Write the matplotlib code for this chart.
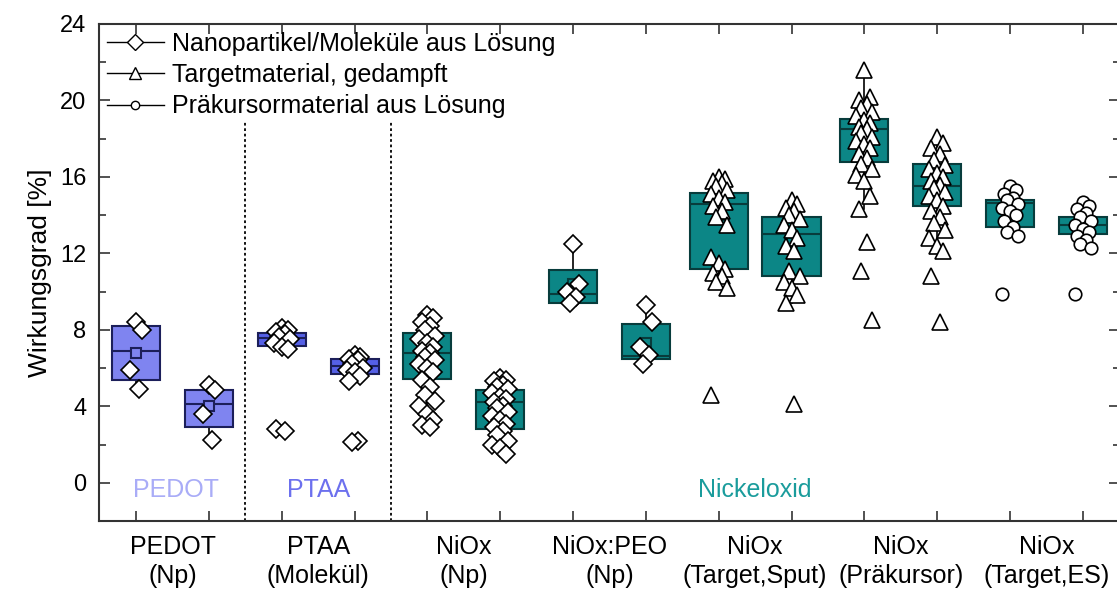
import numpy as np
import matplotlib
matplotlib.use('Agg')
import matplotlib.pyplot as plt
from matplotlib.lines import Line2D

plt.rcParams['font.family'] = ['Liberation Sans', 'DejaVu Sans']

#%% data

cat_labels = ['PEDOT\n(Np)', 'PTAA\n(Molekül)', 'NiOx\n(Np)', 'NiOx:PEO\n(Np)',
              'NiOx\n(Target,Sput)', 'NiOx\n(Präkursor)', 'NiOx\n(Target,ES)']

q1 = [5.4, 2.9, 7.15, 5.7, 5.45, 2.8, 9.4, 6.5, 11.2, 10.8, 16.8, 14.5, 13.4, 13.0]
med = [6.9, 4.1, 7.55, 6.1, 6.8, 4.25, 9.85, 6.65, 14.6, 13.0, 18.5, 15.55, 14.65, 13.5]
q3 = [8.2, 4.85, 7.85, 6.45, 7.85, 4.85, 11.15, 8.3, 15.15, 13.9, 19.05, 16.7, 14.8, 13.9]
means = [6.8, 4.0, 7.5, 6.1, 6.6, 4.0, 10.4, 7.3, 14.0, 12.6, 18.3, 15.6, 14.3, 13.5]
whis_lo = [4.9, 2.25, 7.0, 5.3, 2.9, 1.5, 9.3, 6.2, 10.2, 9.4, 14.3, 12.1, 12.9, 12.3]
whis_hi = [8.4, 5.1, 8.1, 6.7, 8.8, 5.5, 12.5, 9.3, 16.0, 14.8, 21.6, 18.1, 15.5, 14.7]

pts = [
    [8.4, 8.0, 5.9, 4.9],
    [5.1, 4.85, 3.6, 2.25],
    [8.1, 8.0, 7.9, 7.8, 7.6, 7.5, 7.3, 7.1, 7.0, 2.8, 2.7],
    [6.7, 6.6, 6.5, 6.4, 6.2, 6.0, 5.9, 5.8, 5.6, 5.3, 2.2, 2.15],
    [8.8, 8.6, 8.4, 8.2, 8.0, 7.7, 7.5, 7.3, 7.1, 6.9, 6.8, 6.6, 6.4, 6.2,
     6.0, 5.8, 5.4, 5.0, 4.6, 4.3, 4.0, 3.6, 3.3, 3.0, 2.9],
    [5.5, 5.4, 5.3, 5.1, 5.0, 4.9, 4.7, 4.5, 4.4, 4.2, 4.0, 3.9, 3.7, 3.5,
     3.3, 3.1, 2.9, 2.7, 2.5, 2.2, 2.0, 1.8, 1.5],
    [12.5, 10.4, 10.0, 9.7, 9.4],
    [9.3, 8.4, 7.1, 6.7, 6.2],
    [16.0, 15.9, 15.8, 15.7, 15.5, 15.3, 15.1, 14.9, 14.7, 14.5, 14.2, 13.9,
     13.5, 11.8, 11.5, 11.2, 11.0, 10.8, 10.5, 10.2, 4.6],
    [14.8, 14.6, 14.4, 14.2, 14.0, 13.8, 13.5, 13.2, 12.8, 12.4, 12.1, 11.1,
     10.8, 10.5, 10.2, 9.8, 9.4, 4.1],
    [21.6, 20.2, 20.0, 19.8, 19.6, 19.4, 19.2, 19.0, 18.8, 18.6, 18.5, 18.3,
     18.1, 17.9, 17.7, 17.5, 17.2, 17.0, 16.7, 16.4, 16.1, 15.8, 15.0, 14.3,
     12.6, 11.1, 8.5],
    [18.1, 17.8, 17.5, 17.2, 16.9, 16.6, 16.4, 16.2, 16.0, 15.8, 15.6, 15.4,
     15.2, 15.0, 14.8, 14.5, 14.2, 13.9, 13.6, 13.2, 12.8, 12.4, 12.1, 10.8, 8.4],
    [15.5, 15.3, 15.1, 14.9, 14.8, 14.6, 14.4, 14.2, 14.0, 13.7, 13.4, 13.1, 12.9, 9.9],
    [14.7, 14.5, 14.3, 14.1, 13.9, 13.7, 13.5, 13.3, 13.1, 12.9, 12.7, 12.5, 12.3, 9.9],
]
kinds = ['D', 'D', 'D', 'D', 'D', 'D', 'D', 'D', '^', '^', '^', '^', 'o', 'o']

#%% styles

blue_light = '#7f84f0'
blue = '#5560e6'
teal = '#0c8686'
face = [blue_light, blue_light, blue, blue] + [teal] * 10
edge = ['#1c1f5a'] * 4 + ['#083c3c'] * 10
widths = [0.66] * 8 + [0.8, 0.8] + [0.66] * 4
msize = {'D': 9, '^': 11, 'o': 9}
jit = [0.0, 0.08, -0.08, 0.04, -0.04, 0.11, -0.11]

pos = np.arange(1, 15)

fig = plt.figure(figsize=(11.17, 5.97), dpi=100)
ax = fig.add_axes([99/1117, 76/597, 1021/1117, 497/597])

stats = []
for i in range(14):
    stats.append(dict(q1=q1[i], med=med[i], q3=q3[i], mean=means[i],
                      whislo=whis_lo[i], whishi=whis_hi[i], fliers=[]))

bp = ax.bxp(stats, positions=pos, widths=widths, patch_artist=True,
            showmeans=True, showcaps=False, showfliers=False)
for i in range(14):
    bp['boxes'][i].set(facecolor=face[i], edgecolor=edge[i], linewidth=1.5, zorder=2)
    bp['medians'][i].set(color=edge[i], linewidth=1.5, zorder=2)
    bp['means'][i].set(marker='s', markerfacecolor=face[i], markeredgecolor=edge[i],
                       markersize=7, markeredgewidth=1.5, zorder=2)
for w in bp['whiskers']:
    w.set(color='k', linewidth=1.2, zorder=1.5)

for i in range(14):
    y = np.array(pts[i])
    x = pos[i] + np.array([jit[j % len(jit)] for j in range(len(y))])
    ax.plot(x, y, linestyle='none', marker=kinds[i], ms=msize[kinds[i]],
            mfc='white', mec='k', mew=1.2, zorder=3)

ax.vlines([2.5, 4.5], -2, 18.9, colors='k', linestyles=(0, (1.5, 1.5)), linewidth=1.3)

ax.text(1.55, -0.4, 'PEDOT', color='#a9acf7', fontsize=18, ha='center', va='center')
ax.text(3.5, -0.4, 'PTAA', color='#6c70ee', fontsize=18, ha='center', va='center')
ax.text(9.5, -0.4, 'Nickeloxid', color='#1a9c9c', fontsize=18, ha='center', va='center')

ax.set_xlim(0.49, 14.51)
ax.set_ylim(-2, 24)
ax.set_yticks([0, 4, 8, 12, 16, 20, 24])
ax.set_yticks([-2, 2, 6, 10, 14, 18, 22], minor=True)
ax.set_xticks(pos)
ax.set_xticklabels([])
ax.set_xticks(pos[::2] + 0.5, minor=True)
ax.set_xticklabels(cat_labels, minor=True, fontsize=18, linespacing=1.25)
ax.tick_params(axis='x', which='minor', length=0, pad=10)
ax.tick_params(axis='x', which='major', direction='in', length=7, width=1.2,
               top=True, bottom=True, color='#333333')
ax.tick_params(axis='y', which='both', direction='in', left=True, right=True,
               width=1.2, color='#333333', labelsize=17, pad=9)
ax.tick_params(axis='y', which='major', length=8)
ax.tick_params(axis='y', which='minor', length=5)
ax.set_ylabel('Wirkungsgrad [%]', fontsize=19, labelpad=6)
for s in ax.spines.values():
    s.set_linewidth(1.5)
    s.set_color('#333333')

handles = [
    Line2D([], [], color='k', lw=1, marker='D', mfc='white', mec='k', ms=8),
    Line2D([], [], color='k', lw=1, marker='^', mfc='white', mec='k', ms=8),
    Line2D([], [], color='k', lw=1, marker='o', mfc='white', mec='k', ms=6),
]
labels = ['Nanopartikel/Moleküle aus Lösung', 'Targetmaterial, gedampft',
          'Präkursormaterial aus Lösung']
ax.legend(handles, labels, loc='upper left', frameon=False, fontsize=18,
          handlelength=2.3, handletextpad=0.3, labelspacing=0.3,
          borderaxespad=0.1, borderpad=0.2)

fig.savefig('out.png', dpi=100)
